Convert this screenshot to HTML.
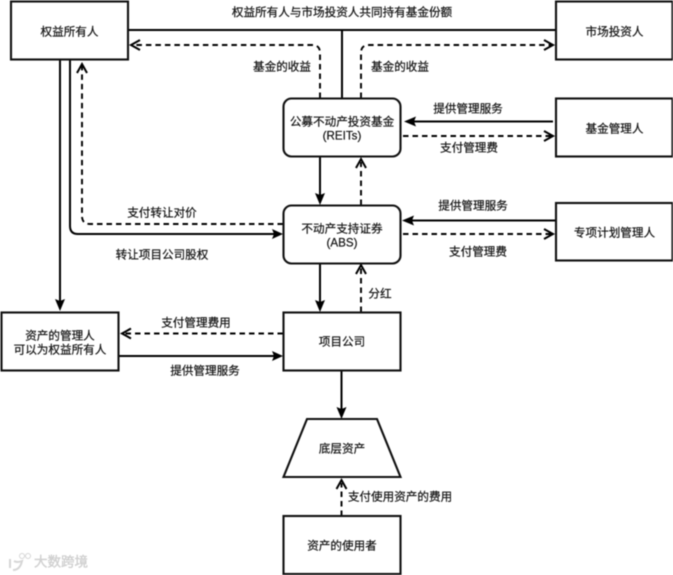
<!DOCTYPE html>
<html><head><meta charset="utf-8"><style>
html,body{margin:0;padding:0;background:#fff}
svg{display:block;filter:blur(0.4px)}
text{font-family:"Liberation Sans","Noto Sans CJK SC",sans-serif;font-size:11.6px;fill:#111;stroke:#111;stroke-width:.2;text-anchor:middle;dominant-baseline:central}
.b{fill:#fff;stroke:#111;stroke-width:2.100}
.l{fill:none;stroke:#000;stroke-width:2}
.d{fill:none;stroke:#000;stroke-width:1.900;stroke-dasharray:5.500 4}
.o{fill:none;stroke:#000;stroke-width:2}
.f{fill:#000;stroke:none}
</style></head><body>
<svg width="673" height="575" viewBox="0 0 673 575" xmlns="http://www.w3.org/2000/svg">
<rect width="673" height="575" fill="#fff"/>
<!-- connectors -->
<path class="l" d="M128 30H556M342 30V98"/>
<path class="d" d="M320 98V53Q320 45 312 45H133"/>
<path class="o" d="M140 40L131 45L140 50"/>
<path class="d" d="M361 98V53Q361 45 369 45H552"/>
<path class="o" d="M544 40L553 45L544 50"/>
<path class="l" d="M60 59V305"/>
<path class="f" d="M60 311L55 299L60 301L65 299Z"/>
<path class="l" d="M70 59V226Q70 234 78 234H278"/>
<path class="f" d="M283 234L272 229L274 234L272 239Z"/>
<path class="d" d="M283 224H90Q82 224 82 216V65"/>
<path class="o" d="M77 73L82 64L87 73"/>
<path class="l" d="M320 156V200"/>
<path class="f" d="M320 205L315 193L320 195L325 193Z"/>
<path class="l" d="M320 263V307"/>
<path class="f" d="M320 312L315 300L320 302L325 300Z"/>
<path class="d" d="M361 205V162"/>
<path class="o" d="M356 168L361 159L366 168"/>
<path class="d" d="M361 312V268"/>
<path class="o" d="M356 274L361 265L366 274"/>
<path class="l" d="M553 121.500H408"/>
<path class="f" d="M404 121.500L416 116.500L414 121.500L416 126.500Z"/>
<path class="d" d="M403 136H552"/>
<path class="o" d="M544 131L553 136L544 141"/>
<path class="l" d="M556 220.500H406"/>
<path class="f" d="M402 220.500L414 215.500L412 220.500L414 225.500Z"/>
<path class="d" d="M403 234H552"/>
<path class="o" d="M544 229L553 234L544 239"/>
<path class="d" d="M283 333.500H124"/>
<path class="o" d="M131 328.500L122 333.500L131 338.500"/>
<path class="l" d="M118 356H278"/>
<path class="f" d="M283 356L272 351L274 356L272 361Z"/>
<path class="l" d="M341.500 370V414"/>
<path class="f" d="M341.500 419L336.500 407L341.500 409L346.500 407Z"/>
<path class="d" d="M341.500 516V483"/>
<path class="o" d="M336.500 489L341.500 480L346.500 489"/>
<!-- nodes -->
<rect class="b" x="11" y="1.500" width="117" height="58"/>
<rect class="b" x="556" y="1.500" width="116.500" height="58"/>
<rect class="b" x="283.500" y="98.500" width="117" height="58" rx="8"/>
<rect class="b" x="556" y="98.500" width="116.500" height="58"/>
<rect class="b" x="283.500" y="205.500" width="117" height="58" rx="8"/>
<rect class="b" x="556" y="203" width="116.500" height="57.500"/>
<rect class="b" x="1.500" y="312.500" width="117" height="58"/>
<rect class="b" x="283.500" y="312.500" width="117" height="58"/>
<path class="b" d="M307 419H377L400.500 477H283.500Z"/>
<rect class="b" x="283.500" y="516" width="117" height="58"/>
<!-- node labels -->
<text x="69.500" y="32">权益所有人</text>
<text x="614.500" y="32">市场投资人</text>
<text x="342" y="122">公募不动产投资基金</text>
<text x="342" y="136">(REITs)</text>
<text x="614.500" y="129">基金管理人</text>
<text x="342" y="229">不动产支持证券</text>
<text x="342" y="243">(ABS)</text>
<text x="614.500" y="233">专项计划管理人</text>
<text x="60" y="336">资产的管理人</text>
<text x="60" y="350">可以为权益所有人</text>
<text x="342" y="342">项目公司</text>
<text x="342" y="449">底层资产</text>
<text x="342" y="546">资产的使用者</text>
<!-- edge labels -->
<text x="342" y="12.500">权益所有人与市场投资人共同持有基金份额</text>
<text x="282" y="67">基金的收益</text>
<text x="400" y="67">基金的收益</text>
<text x="468" y="109">提供管理服务</text>
<text x="469" y="148">支付管理费</text>
<text x="162" y="213">支付转让对价</text>
<text x="162" y="255">转让项目公司股权</text>
<text x="473" y="206">提供管理服务</text>
<text x="478" y="252">支付管理费</text>
<text x="380" y="294">分红</text>
<text x="196" y="323">支付管理费用</text>
<text x="205" y="371">提供管理服务</text>
<text x="400" y="497">支付使用资产的费用</text>
<!-- watermark -->
<g opacity="0.6">
<path d="M10 559V568M13 570Q20 570 22 561Q17 563 14 561" fill="none" stroke="#bbb" stroke-width="2"/>
<circle cx="22" cy="556" r="2.500" fill="none" stroke="#bbb"/>
<circle cx="28" cy="556" r="2.500" fill="none" stroke="#bbb"/>
<text x="61" y="562" style="font-size:13.500px;fill:#bbb;stroke:#999;stroke-width:.3">大数跨境</text>
</g>
</svg>
</body></html>
